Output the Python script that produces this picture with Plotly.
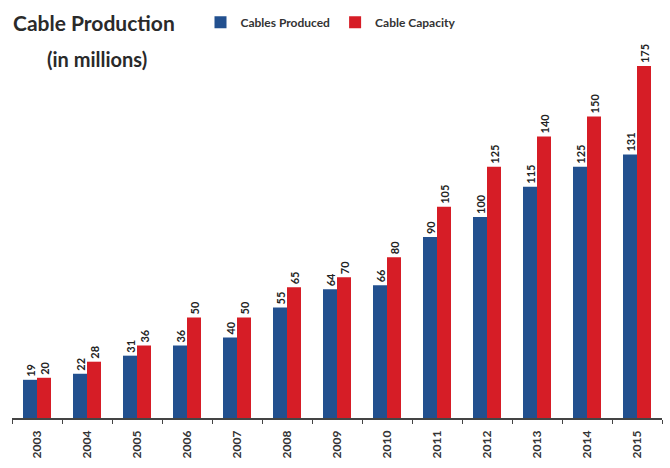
import plotly.graph_objects as go

years = ["2003", "2004", "2005", "2006", "2007", "2008", "2009",
         "2010", "2011", "2012", "2013", "2014", "2015"]
cables_produced = [19, 22, 31, 36, 40, 55, 64, 66, 90, 100, 115, 125, 131]
cable_capacity = [20, 28, 36, 50, 50, 65, 70, 80, 105, 125, 140, 150, 175]

FONT = "Lato"
BLUE = "#22508f"
RED = "#d61d26"

fig = go.Figure()
fig.add_trace(go.Bar(
    x=years, y=cables_produced, name="Cables Produced",
    marker=dict(color=BLUE, line=dict(width=0)),
    text=[str(v) for v in cables_produced], textposition="outside",
    textangle=-90, textfont=dict(family=FONT, size=11, color="#222222", weight="bold"),
    cliponaxis=False,
))
fig.add_trace(go.Bar(
    x=years, y=cable_capacity, name="Cable Capacity",
    marker=dict(color=RED, line=dict(width=0)),
    text=[str(v) for v in cable_capacity], textposition="outside",
    textangle=-90, textfont=dict(family=FONT, size=11, color="#222222", weight="bold"),
    cliponaxis=False,
))

fig.update_layout(
    width=670, height=468,
    margin=dict(l=12, r=8, t=40, b=50),
    paper_bgcolor="white", plot_bgcolor="white",
    barmode="group", bargap=0.44, bargroupgap=0,
    uniformtext=dict(minsize=11, mode="show"),
    font=dict(family=FONT, color="#222222"),
    showlegend=True,
    legend=dict(
        orientation="h", x=0.29, y=1.058, xanchor="left", yanchor="middle",
        font=dict(family=FONT, size=12, color="#333333", weight="bold"),
        itemwidth=30, bgcolor="rgba(0,0,0,0)",
    ),
    xaxis=dict(
        type="category", tickangle=-90, showgrid=False,
        showline=True, linecolor="#444444", linewidth=1.5,
        ticks="outside", ticklen=4, tickcolor="#444444", tickson="boundaries",
        ticklabelstandoff=6,
        tickfont=dict(family=FONT, size=12, color="#333333", weight="bold"),
    ),
    yaxis=dict(range=[0, 186], visible=False, showgrid=False, zeroline=False),
    annotations=[
        dict(text="<b>Cable Production</b>", xref="paper", yref="paper",
             x=-0.002, y=1.058, xanchor="left", yanchor="middle", showarrow=False,
             font=dict(family=FONT, size=21, color="#2a2a2a")),
        dict(text="<b>(in millions)</b>", xref="paper", yref="paper",
             x=0.05, y=0.96, xanchor="left", yanchor="middle", showarrow=False,
             font=dict(family=FONT, size=20, color="#2a2a2a")),
    ],
)

fig.write_html("out.html")
